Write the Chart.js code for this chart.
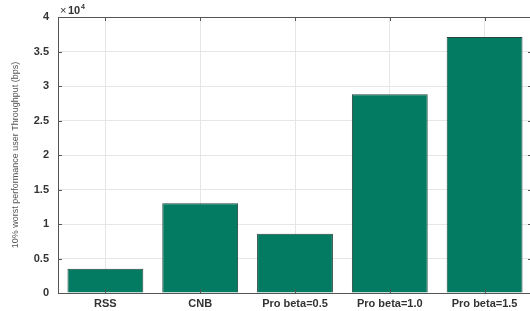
<!DOCTYPE html>
<html>
<head>
<meta charset="utf-8">
<script src="https://cdn.jsdelivr.net/npm/chart.js@4"></script>
<style>
  html, body { margin: 0; padding: 0; background: #fff; overflow: hidden; }
  #wrap { width: 536px; height: 311px; position: relative; }
</style>
</head>
<body>
<div id="wrap"><canvas id="chart"></canvas></div>
<script>
const categories = ["RSS", "CNB", "Pro beta=0.5", "Pro beta=1.0", "Pro beta=1.5"];
const throughput = [3500, 13000, 8600, 28800, 37100];
const yTicks = [0, 5000, 10000, 15000, 20000, 25000, 30000, 35000, 40000];

const PLOT_LEFT = 58;
const PLOT_BOTTOM = 293;

// box around the plot, inward tick marks and the x10^4 exponent label
const matlabFrame = {
  id: "matlabFrame",
  afterDraw(chart) {
    const { ctx, chartArea: a, scales } = chart;
    ctx.save();
    ctx.strokeStyle = "#555";
    ctx.lineWidth = 1;
    ctx.strokeRect(a.left + 0.5, a.top + 0.5, a.right - a.left, a.bottom - a.top);

    ctx.beginPath();
    scales.x.ticks.forEach((t, i) => {
      const x = Math.round(scales.x.getPixelForTick(i)) + 0.5;
      ctx.moveTo(x, a.top); ctx.lineTo(x, a.top + 4);
      ctx.moveTo(x, a.bottom); ctx.lineTo(x, a.bottom - 4);
    });
    scales.y.ticks.forEach((t, i) => {
      const y = Math.round(scales.y.getPixelForTick(i)) + 0.5;
      ctx.moveTo(a.left, y); ctx.lineTo(a.left + 4, y);
      ctx.moveTo(a.right, y); ctx.lineTo(a.right - 4, y);
    });
    ctx.stroke();

    ctx.fillStyle = "#333";
    ctx.textBaseline = "alphabetic";
    ctx.font = "11px 'Liberation Sans', Arial, sans-serif";
    ctx.fillText("\u00d7", a.left + 2, a.top - 3);
    ctx.font = "bold 11px 'Liberation Sans', Arial, sans-serif";
    ctx.fillText("10", a.left + 10, a.top - 3);
    ctx.font = "bold 7px 'Liberation Sans', Arial, sans-serif";
    ctx.fillText("4", a.left + 23, a.top - 8);
    ctx.restore();
  }
};

new Chart(document.getElementById("chart"), {
  type: "bar",
  data: {
    labels: categories,
    datasets: [
      {
        data: throughput,
        backgroundColor: "#037b63",
        borderColor: "#23443a",
        borderWidth: 1,
        barPercentage: 0.8,
        categoryPercentage: 1.0
      }
    ]
  },
  options: {
    responsive: true,
    maintainAspectRatio: false,
    animation: false,
    layout: { padding: { top: 17, right: 4, left: 0, bottom: 0 } },
    plugins: {
      legend: { display: false },
      tooltip: { enabled: false }
    },
    scales: {
      x: {
        grid: { offset: false, color: "#e6e6e6", drawTicks: false },
        border: { display: false },
        ticks: {
          color: "#333",
          padding: 4,
          maxRotation: 0,
          autoSkip: false,
          font: { family: "'Liberation Sans', Arial, sans-serif", size: 11, weight: "bold" }
        },
        afterFit(scale) { scale.height = 311 - PLOT_BOTTOM; }
      },
      y: {
        min: 0,
        max: 40000,
        afterBuildTicks(scale) { scale.ticks = yTicks.map((v) => ({ value: v })); },
        grid: { color: "#e6e6e6", drawTicks: false },
        border: { display: false },
        ticks: {
          color: "#333",
          padding: 9,
          font: { family: "'Liberation Sans', Arial, sans-serif", size: 11, weight: "bold" },
          callback: (v) => String(v / 10000)
        },
        title: {
          display: true,
          text: "10% worst performance user Throughput (bps)",
          color: "#555",
          padding: { top: 10, bottom: 0 },
          font: { family: "'Liberation Sans Narrow', 'Liberation Sans', sans-serif", size: 9 }
        },
        afterFit(scale) { scale.width = PLOT_LEFT; }
      }
    }
  },
  plugins: [matlabFrame]
});
</script>
</body>
</html>
